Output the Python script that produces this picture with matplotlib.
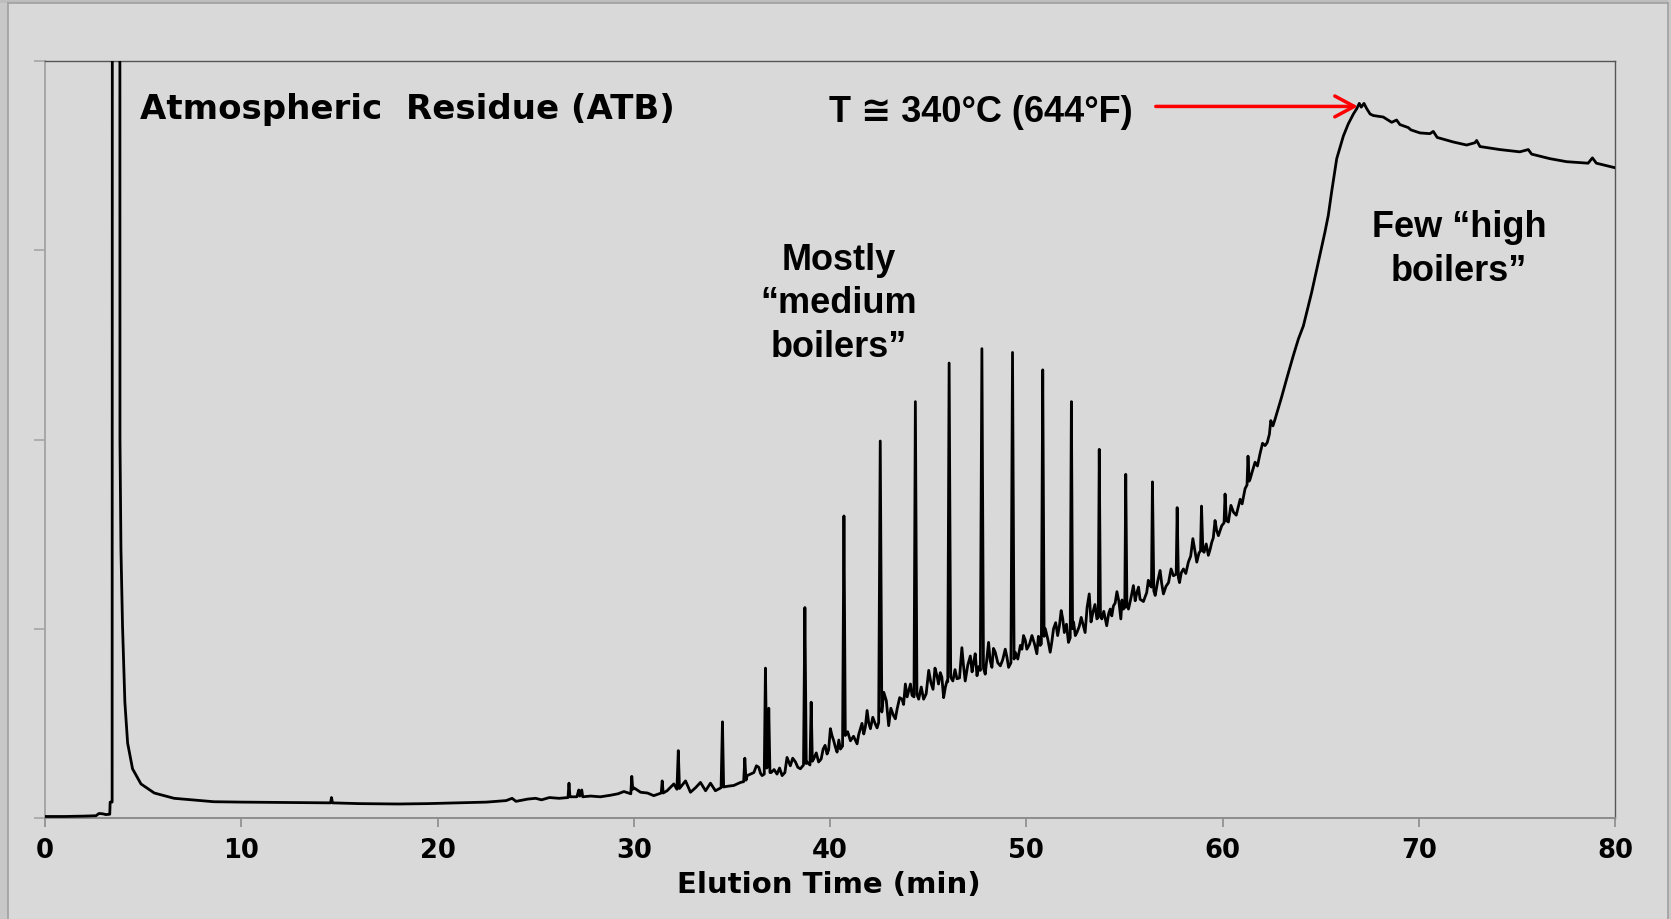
import matplotlib
matplotlib.use('Agg')
import matplotlib.pyplot as plt
from matplotlib.patches import Rectangle, FancyArrowPatch
from matplotlib.lines import Line2D
import numpy as np

# ---------------- data ----------------
# solvent / injection peak region (min, relative signal)
t_early = [0.0, 1.0, 2.0, 2.6, 2.75, 2.95, 3.1, 3.3, 3.32, 3.42, 3.45, 3.80, 3.82,
           3.87, 3.95, 4.07, 4.21, 4.46, 4.89, 5.57, 6.58, 7.94]
s_early = [0.2, 0.2, 0.25, 0.3, 0.6, 0.55, 0.45, 0.5, 2.1, 2.1, 300, 300, 50,
           35.5, 25.4, 15.3, 9.9, 6.5, 4.5, 3.3, 2.6, 2.3]

# flat baseline region
t_base = [8.6, 10.0, 12.0, 14.05, 14.55, 14.6, 14.65, 16.0, 18.0, 19.5, 21.0, 22.5,
          23.5, 23.8, 24.0, 24.6, 25.0, 25.3, 25.7, 26.2, 26.65, 26.7, 26.75, 27.1,
          27.2, 27.25, 27.35, 27.4, 27.8, 28.3, 28.8, 29.2, 29.5, 29.85, 29.9, 29.95]
s_base = [2.15, 2.1, 2.05, 2.0, 2.0, 2.7, 2.0, 1.9, 1.85, 1.9, 2.0, 2.1,
          2.3, 2.6, 2.2, 2.5, 2.6, 2.4, 2.7, 2.6, 2.7, 4.6, 2.8, 2.8,
          3.7, 2.9, 3.7, 2.8, 2.9, 2.8, 3.0, 3.2, 3.5, 3.2, 5.5, 3.8]

# medium boilers region with n-alkane spikes
t_mid = [30.0, 30.35, 30.7, 31.02, 31.4, 31.45, 31.5, 31.7, 32.04, 32.2, 32.27, 32.33,
         32.64, 32.89, 33.15, 33.4, 33.66, 33.91, 34.16, 34.45, 34.52, 34.58, 34.8, 35.1,
         35.44, 35.6, 35.66, 35.72, 35.78, 36.12, 36.37, 36.54, 36.65, 36.71, 36.78, 36.83,
         36.88, 36.94, 37.0, 37.3, 37.56, 37.81, 37.98, 38.24, 38.49, 38.65, 38.72, 38.79,
         38.83, 38.98, 39.04, 39.10, 39.17, 39.42, 39.65, 39.85, 40.02, 40.19, 40.36, 40.53,
         40.64, 40.71, 40.78, 41.04, 41.38, 41.55, 41.72, 41.89, 42.06, 42.31, 42.48, 42.56,
         42.64, 42.74, 42.87, 42.99, 43.24, 43.42, 43.67, 43.84, 44.01, 44.18, 44.28, 44.35,
         44.43, 44.52, 44.77, 45.03, 45.25, 45.45, 45.62, 45.79, 45.96, 46.0, 46.07, 46.15,
         46.26, 46.47, 46.72, 46.89, 47.15, 47.32, 47.49, 47.66, 47.74, 47.82, 47.91, 48.08,
         48.25, 48.42, 48.68, 48.93, 49.1, 49.22, 49.30, 49.38, 49.44, 49.7, 49.86, 50.03,
         50.29, 50.54, 50.71, 50.77, 50.84, 50.91, 50.97, 51.22, 51.39, 51.6, 51.78, 51.94,
         52.15, 52.24, 52.30, 52.36, 52.41, 52.58, 52.8, 53.0, 53.21, 53.4, 53.6, 53.67,
         53.72, 53.78, 53.85, 54.1, 54.28, 54.44, 54.62, 54.82, 54.95, 55.02, 55.07, 55.13,
         55.21, 55.46, 55.64, 55.8, 56.14, 56.31, 56.38, 56.43, 56.5, 56.57, 56.82, 56.99,
         57.25, 57.5, 57.64, 57.69, 57.75, 57.81, 58.01, 58.26, 58.49, 58.69, 58.8, 58.88,
         58.93, 59.0, 59.06, 59.28, 59.45, 59.62, 59.79, 59.96, 60.08, 60.13, 60.2, 60.3,
         60.56, 60.9, 61.15, 61.25, 61.3, 61.36, 61.41, 61.66, 61.91, 62.17, 62.39, 62.46,
         62.68]
s_mid = [4.0, 3.4, 3.3, 2.95, 3.3, 4.9, 3.3, 3.6, 4.5, 3.8, 8.9, 3.9,
         4.9, 3.4, 4.0, 4.7, 3.6, 4.6, 3.6, 4.0, 12.7, 4.1, 4.2, 4.3,
         4.7, 4.8, 7.9, 5.0, 5.6, 6.0, 6.7, 5.6, 5.8, 19.8, 6.6, 6.9,
         14.5, 6.0, 6.0, 5.8, 5.6, 8.0, 6.9, 7.4, 6.5, 7.0, 27.8, 7.2,
         7.4, 7.0, 15.3, 7.5, 7.8, 7.4, 9.1, 8.45, 11.8, 10.2, 8.7, 9.1,
         9.5, 39.9, 10.9, 10.2, 9.8, 11.8, 11.1, 14.2, 11.8, 12.4, 12.6, 49.8,
         14.0, 16.6, 15.5, 12.2, 13.5, 14.4, 15.7, 17.7, 16.8, 16.2, 16.0, 55.0,
         16.3, 15.7, 15.7, 19.5, 17.0, 18.8, 19.2, 15.9, 18.1, 18.0, 60.1, 18.6,
         18.1, 18.4, 22.5, 18.1, 21.4, 20.6, 18.8, 19.5, 62.0, 19.8, 19.0, 23.2,
         19.9, 21.9, 20.1, 22.3, 19.9, 20.5, 61.5, 21.0, 21.9, 22.8, 24.1, 22.3,
         24.1, 21.7, 22.8, 23.0, 59.2, 24.0, 25.0, 21.9, 25.0, 24.1, 27.4, 24.5,
         23.2, 23.8, 55.0, 25.0, 25.9, 24.5, 26.5, 24.5, 29.6, 27.2, 26.3, 26.5,
         48.7, 26.8, 26.3, 25.4, 27.6, 28.0, 29.9, 26.3, 27.6, 27.8, 45.4, 28.0,
         27.6, 30.7, 29.8, 28.9, 29.8, 30.7, 30.5, 44.4, 30.0, 29.4, 32.7, 29.6,
         31.1, 32.0, 32.2, 41.0, 31.8, 31.1, 32.9, 33.8, 36.9, 33.8, 35.0, 35.3,
         41.2, 35.3, 35.1, 34.7, 36.4, 39.3, 37.3, 38.6, 39.0, 42.8, 39.3, 39.1,
         40.4, 42.1, 43.5, 44.0, 47.8, 44.5, 44.8, 47.0, 48.1, 49.2, 50.7, 52.5,
         52.7]

# extra baseline noise wiggles in the medium boilers region
t_noise = [36.25, 36.46, 37.15, 37.43, 37.7, 38.1, 38.36, 39.3, 39.55, 39.75, 39.93,
           40.1, 40.27, 40.45, 40.9, 41.2, 41.46, 41.63, 41.8, 41.97, 42.18, 42.4,
           43.1, 43.33, 43.55, 43.75, 43.93, 44.1, 44.65, 44.9, 45.14, 45.35, 45.53,
           45.7, 45.88, 46.37, 46.6, 46.8, 47.02, 47.24, 47.4, 47.58, 48.0, 48.16,
           48.33, 48.55, 48.8, 49.02, 49.57, 49.78, 49.95, 50.16, 50.42, 50.62, 51.1,
           51.3, 51.5, 51.69, 51.86, 52.05, 52.5, 52.7, 52.9, 53.1, 53.3, 53.5, 53.95,
           54.2, 54.36, 54.53, 54.72, 54.88, 55.33, 55.55, 55.72, 55.97, 56.22, 56.7,
           56.9, 57.12, 57.38, 57.9, 58.13, 58.38, 58.6, 59.17, 59.37, 59.53, 59.7,
           59.88, 60.43, 60.7, 61.0, 61.52, 61.78, 62.04, 62.28, 62.57]
s_noise = [6.9, 5.9, 6.4, 6.6, 6.0, 7.9, 6.7, 8.6, 7.8, 9.6, 9.0,
           10.9, 9.4, 10.3, 11.4, 10.8, 11.0, 12.5, 12.0, 12.6, 13.3, 11.9,
           14.5, 13.1, 15.9, 15.0, 16.0, 17.7, 17.3, 16.4, 17.9, 19.8, 17.7,
           18.6, 17.3, 19.6, 18.5, 20.2, 20.2, 19.3, 21.7, 20.0, 21.3, 20.8,
           22.4, 20.5, 20.9, 21.2, 21.0, 22.3, 23.5, 22.9, 23.0, 24.0, 23.6,
           23.2, 25.8, 25.4, 26.3, 25.6, 24.1, 25.3, 25.5, 27.8, 25.9, 28.2, 27.3,
           27.0, 26.7, 28.4, 28.6, 28.8, 29.0, 28.7, 30.5, 28.6, 31.4, 31.3,
           31.0, 30.6, 32.9, 32.4, 32.3, 34.6, 35.2, 36.2, 35.5, 37.0, 38.0,
           38.0, 41.3, 40.0, 41.5, 45.8, 46.5, 49.5, 49.6, 51.8]

# steep rise to the final oven temperature
t_rise = [63.0, 63.3, 63.61, 63.87, 64.12, 64.54, 64.88, 65.22, 65.39, 65.56, 65.82,
          66.16, 66.41, 66.67, 66.84, 66.97, 67.07, 67.21, 67.35]
s_rise = [55.5, 58.3, 61.1, 63.3, 65.0, 69.4, 73.4, 77.4, 79.6, 82.7, 87.1,
          90.1, 91.7, 93.0, 93.7, 94.4, 93.9, 94.4, 93.7]

# high boilers tail
t_tail = [67.52, 67.68, 68.19, 68.62, 68.87, 69.04, 69.47, 69.6, 70.06, 70.57, 70.74,
          70.94, 71.76, 72.44, 72.86, 72.95, 73.12, 74.13, 75.15, 75.58, 75.75, 76.68,
          77.53, 78.63, 78.85, 79.05, 80.0]
s_tail = [93.0, 92.8, 92.6, 91.9, 92.2, 91.6, 91.2, 90.9, 90.5, 90.4, 90.7,
          89.9, 89.3, 88.9, 89.2, 89.5, 88.7, 88.3, 88.0, 88.3, 87.7, 87.1,
          86.7, 86.5, 87.2, 86.5, 85.9]

x_ticks = [0, 10, 20, 30, 40, 50, 60, 70, 80]
x_tick_labels = ['0', '10', '20', '30', '40', '50', '60', '70', '80']
y_ticks = [0, 25, 50, 75, 100]

_t = np.array(t_early + t_base + t_mid + t_noise + t_rise + t_tail)
_s = np.array(s_early + s_base + s_mid + s_noise + s_rise + s_tail)
_order = np.argsort(_t, kind='stable')
elution_time = _t[_order]
signal = _s[_order]

# ---------------- figure ----------------
W, H = 1671, 920
BG = '#d9d9d9'
fig = plt.figure(figsize=(W / 100, H / 100), dpi=100, facecolor=BG)

def fx(px):
    return px / W

def fy(py):
    return 1 - py / H

# outer slide frame
fig.patches.append(Rectangle((0, 0), fx(8), 1, transform=fig.transFigure,
                             facecolor='#c8c8c8', edgecolor='none', zorder=0))
fig.patches.append(Rectangle((0, fy(4)), 1, 4 / H, transform=fig.transFigure,
                             facecolor='#bdbdbd', edgecolor='none', zorder=0))
fig.patches.append(Rectangle((fx(1668), 0), 1 - fx(1668), 1, transform=fig.transFigure,
                             facecolor='#c8c8c8', edgecolor='none', zorder=0))
fig.lines.append(Line2D([fx(8), fx(8)], [0, fy(4)], transform=fig.transFigure,
                        color='#a0a0a0', lw=1.2))
fig.lines.append(Line2D([fx(8), fx(1668)], [fy(4), fy(4)], transform=fig.transFigure,
                        color='#a0a0a0', lw=1.2))
fig.lines.append(Line2D([fx(1668), fx(1668)], [0, fy(4)], transform=fig.transFigure,
                        color='#a0a0a0', lw=1.2))

ax = fig.add_axes([fx(45), fy(819), fx(1615) - fx(45), fy(62) - fy(819)])
ax.set_facecolor(BG)
ax.plot(elution_time, signal, color='black', lw=2.0, zorder=3)
ax.set_xlim(0, 80)
ax.set_ylim(0, 100)

ax.set_xticks(x_ticks)
ax.set_xticklabels(x_tick_labels, fontfamily='DejaVu Sans', fontweight='bold', fontsize=18.5)
ax.set_yticks(y_ticks)
ax.set_yticklabels([])
ax.tick_params(axis='x', direction='out', length=6.5, width=1.2, color='#8c8c8c', pad=7)
ax.tick_params(axis='y', direction='out', length=8, width=1.2, color='#a6a6a6')

for side in ('top', 'right'):
    ax.spines[side].set_color('#555555')
    ax.spines[side].set_linewidth(1.0)
ax.spines['left'].set_color('#a6a6a6')
ax.spines['left'].set_linewidth(1.4)
ax.spines['bottom'].set_color('#8c8c8c')
ax.spines['bottom'].set_linewidth(1.4)

# axis title
fig.text(fx(829), fy(893), 'Elution Time (min)', ha='center', va='baseline',
         fontfamily='DejaVu Sans', fontweight='bold', fontsize=21)

# annotations
fig.text(fx(140), fy(118.5), 'Atmospheric  Residue (ATB)', ha='left', va='baseline',
         fontfamily='DejaVu Sans', fontweight='bold', fontsize=24.5)

lib = ['Liberation Sans', 'DejaVu Sans']
fig.text(fx(829), fy(122), 'T \u2245 340\u00b0C (644\u00b0F)', ha='left', va='baseline',
         family=lib, fontweight='bold', fontsize=26)

for txt, yb in [('Mostly', 269.5), ('\u201cmedium', 313), ('boilers\u201d', 357)]:
    fig.text(fx(839), fy(yb), txt, ha='center', va='baseline',
             family=lib, fontweight='bold', fontsize=26)

for txt, yb in [('Few \u201chigh', 237), ('boilers\u201d', 281)]:
    fig.text(fx(1459), fy(yb), txt, ha='center', va='baseline',
             family=lib, fontweight='bold', fontsize=26)

arrow = FancyArrowPatch((56.6, 94.0), (66.9, 94.0),
                        arrowstyle='->,head_length=1.4,head_width=0.75',
                        mutation_scale=10, color='#ff0000', lw=2.5,
                        shrinkA=0, shrinkB=0, zorder=4)
ax.add_patch(arrow)

fig.savefig('out.png', dpi=100, facecolor=BG)
